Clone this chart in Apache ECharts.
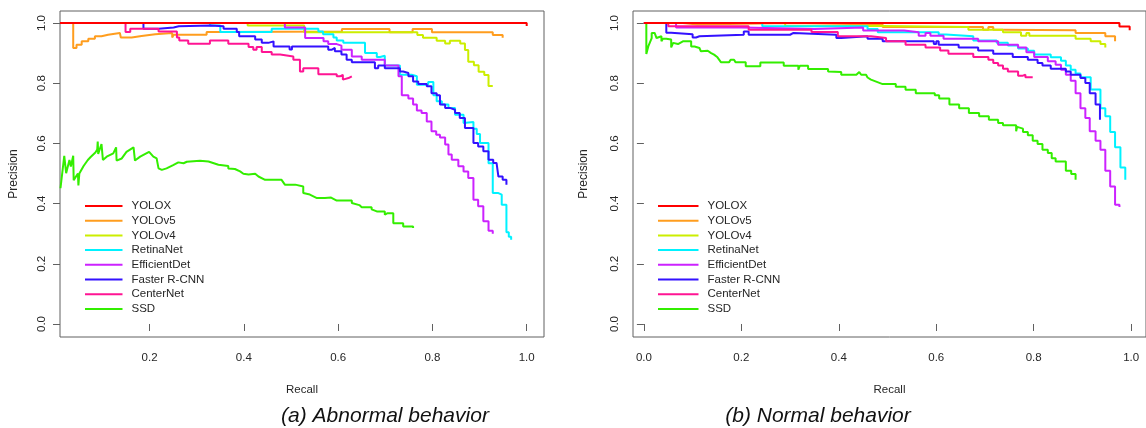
<!DOCTYPE html>
<html><head><meta charset="utf-8">
<script src="https://cdn.jsdelivr.net/npm/echarts@6/dist/echarts.min.js"></script>
<style>html,body{margin:0;padding:0;background:#fff}#c{width:1146px;height:428px}</style>
</head><body><div id="c"></div><script>
// ---- tick labels ----
const xTicksA = [0.2, 0.4, 0.6, 0.8, 1.0];
const xTicksB = [0.0, 0.2, 0.4, 0.6, 0.8, 1.0];
const yTicks = [0.0, 0.2, 0.4, 0.6, 0.8, 1.0];
const names = ['YOLOX', 'YOLOv5', 'YOLOv4', 'RetinaNet', 'EfficientDet', 'Faster R-CNN', 'CenterNet', 'SSD'];
const captions = ['(a) Abnormal behavior', '(b) Normal behavior'];

// ---- (a) Abnormal behavior: [recall, precision] ----
const a_YOLOX = [[0.01,1.0],[1.0,0.99]];
const a_YOLOv5 = [[0.01,1.0],[0.038,0.917],[0.045,0.928],[0.056,0.939],[0.070,0.948],[0.084,0.956],[0.098,0.961],[0.112,0.967],[0.137,0.970],[0.139,0.952],[0.162,0.957],[0.183,0.963],[0.212,0.967],[0.248,0.952],[0.251,0.961],[0.321,0.970],[0.349,0.972],[0.608,0.980],[0.709,0.969],[0.758,0.980],[0.799,0.969],[0.928,0.960],[0.949,0.951]];
const a_YOLOv4 = [[0.01,1.0],[0.408,0.992],[0.528,0.969],[0.768,0.960],[0.780,0.951],[0.809,0.941],[0.827,0.932],[0.837,0.941],[0.859,0.932],[0.869,0.910],[0.876,0.871],[0.888,0.860],[0.898,0.838],[0.910,0.827],[0.919,0.791],[0.928,0.791]];
const a_RetinaNet = [[0.01,1.0],[0.328,0.992],[0.350,0.970],[0.459,0.981],[0.558,0.972],[0.568,0.963],[0.590,0.952],[0.597,0.942],[0.611,0.934],[0.657,0.900],[0.682,0.887],[0.689,0.891],[0.699,0.859],[0.731,0.828],[0.756,0.823],[0.767,0.795],[0.791,0.804],[0.802,0.760],[0.809,0.740],[0.820,0.729],[0.834,0.718],[0.848,0.695],[0.866,0.668],[0.869,0.671],[0.887,0.649],[0.894,0.631],[0.901,0.601],[0.919,0.534],[0.928,0.435],[0.940,0.430],[0.947,0.396],[0.957,0.305],[0.962,0.290],[0.967,0.280]];
const a_EfficientDet = [[0.01,1.0],[0.487,0.985],[0.530,0.950],[0.569,0.939],[0.579,0.930],[0.597,0.925],[0.607,0.911],[0.629,0.889],[0.650,0.878],[0.699,0.859],[0.728,0.823],[0.735,0.760],[0.749,0.749],[0.759,0.729],[0.767,0.709],[0.777,0.701],[0.788,0.673],[0.798,0.640],[0.808,0.629],[0.816,0.620],[0.827,0.596],[0.834,0.563],[0.841,0.546],[0.855,0.524],[0.866,0.507],[0.876,0.485],[0.887,0.413],[0.897,0.391],[0.908,0.341],[0.919,0.310],[0.928,0.300]];
const a_FasterRCNN = [[0.01,1.0],[0.187,0.981],[0.219,0.985],[0.251,0.989],[0.262,0.992],[0.330,0.989],[0.357,0.981],[0.385,0.970],[0.390,0.956],[0.424,0.945],[0.438,0.934],[0.452,0.939],[0.463,0.922],[0.497,0.912],[0.502,0.922],[0.579,0.911],[0.586,0.917],[0.593,0.906],[0.607,0.895],[0.618,0.878],[0.629,0.870],[0.678,0.850],[0.685,0.859],[0.699,0.850],[0.731,0.839],[0.738,0.834],[0.749,0.823],[0.759,0.806],[0.770,0.797],[0.788,0.790],[0.798,0.767],[0.809,0.760],[0.816,0.729],[0.827,0.718],[0.837,0.712],[0.848,0.701],[0.858,0.684],[0.869,0.651],[0.887,0.601],[0.897,0.590],[0.908,0.574],[0.919,0.546],[0.929,0.535],[0.936,0.540],[0.940,0.490],[0.949,0.479],[0.957,0.463]];
const a_CenterNet = [[0.01,1.0],[0.149,0.970],[0.159,0.981],[0.219,0.972],[0.258,0.952],[0.263,0.942],[0.282,0.931],[0.328,0.942],[0.367,0.931],[0.410,0.920],[0.420,0.911],[0.427,0.920],[0.438,0.904],[0.459,0.895],[0.477,0.889],[0.505,0.878],[0.519,0.839],[0.526,0.850],[0.558,0.830],[0.597,0.823],[0.604,0.828],[0.610,0.812],[0.611,0.817],[0.622,0.823],[0.629,0.823]];
const a_SSD = [[0.011,0.451],[0.019,0.559],[0.023,0.501],[0.030,0.545],[0.033,0.523],[0.038,0.559],[0.039,0.478],[0.048,0.500],[0.049,0.460],[0.051,0.500],[0.060,0.525],[0.069,0.545],[0.075,0.555],[0.085,0.570],[0.089,0.580],[0.090,0.606],[0.091,0.565],[0.098,0.598],[0.101,0.545],[0.109,0.556],[0.123,0.567],[0.129,0.587],[0.130,0.543],[0.141,0.550],[0.151,0.572],[0.166,0.587],[0.169,0.543],[0.180,0.556],[0.199,0.572],[0.208,0.556],[0.215,0.550],[0.219,0.517],[0.226,0.512],[0.236,0.517],[0.250,0.528],[0.261,0.537],[0.272,0.534],[0.279,0.539],[0.307,0.542],[0.325,0.540],[0.325,0.535],[0.346,0.529],[0.367,0.525],[0.367,0.517],[0.381,0.515],[0.392,0.507],[0.399,0.499],[0.410,0.497],[0.424,0.499],[0.431,0.490],[0.445,0.479],[0.480,0.479],[0.480,0.474],[0.487,0.463],[0.509,0.463],[0.509,0.457],[0.526,0.457],[0.526,0.435],[0.540,0.430],[0.554,0.419],[0.572,0.419],[0.572,0.414],[0.585,0.420],[0.597,0.410],[0.629,0.410],[0.629,0.402],[0.645,0.395],[0.650,0.388],[0.671,0.388],[0.671,0.381],[0.682,0.374],[0.699,0.374],[0.699,0.363],[0.705,0.368],[0.717,0.368],[0.717,0.335],[0.738,0.335],[0.738,0.324],[0.759,0.324],[0.759,0.319]];

// ---- (b) Normal behavior: [recall, precision] ----
const b_YOLOX = [[0.0,1.0],[0.976,0.988],[0.997,0.976]];
const b_YOLOv5 = [[0.0,1.0],[0.08,0.995],[0.11,1.0],[0.30,0.995],[0.49,0.987],[0.696,0.978],[0.707,0.987],[0.717,0.978],[0.737,0.976],[0.886,0.967],[0.947,0.956],[0.967,0.939]];
const b_YOLOv4 = [[0.0,1.0],[0.29,0.990],[0.49,0.987],[0.666,0.978],[0.737,0.969],[0.774,0.958],[0.785,0.967],[0.791,0.958],[0.886,0.948],[0.917,0.939],[0.937,0.930],[0.947,0.919]];
const b_RetinaNet = [[0.0,1.0],[0.243,0.989],[0.459,0.980],[0.480,0.969],[0.605,0.962],[0.620,0.956],[0.676,0.942],[0.724,0.934],[0.747,0.925],[0.768,0.915],[0.788,0.908],[0.801,0.895],[0.835,0.886],[0.856,0.875],[0.866,0.859],[0.876,0.845],[0.886,0.832],[0.896,0.820],[0.917,0.779],[0.937,0.717],[0.947,0.690],[0.957,0.638],[0.967,0.587],[0.978,0.520],[0.988,0.479]];
const b_EfficientDet = [[0.0,1.0],[0.066,0.985],[0.200,0.980],[0.350,0.985],[0.450,0.975],[0.534,0.969],[0.564,0.958],[0.578,0.967],[0.588,0.958],[0.615,0.948],[0.686,0.939],[0.727,0.928],[0.768,0.919],[0.785,0.903],[0.801,0.887],[0.829,0.873],[0.845,0.861],[0.856,0.845],[0.866,0.828],[0.876,0.808],[0.886,0.767],[0.896,0.717],[0.906,0.684],[0.915,0.640],[0.927,0.609],[0.937,0.579],[0.947,0.509],[0.957,0.457],[0.967,0.396],[0.976,0.389]];
const b_FasterRCNN = [[0.0,1.0],[0.046,0.968],[0.056,0.963],[0.100,0.952],[0.107,0.956],[0.114,0.961],[0.205,0.972],[0.215,0.961],[0.300,0.967],[0.307,0.961],[0.395,0.950],[0.405,0.956],[0.459,0.948],[0.490,0.939],[0.595,0.930],[0.600,0.939],[0.605,0.928],[0.646,0.919],[0.686,0.909],[0.717,0.898],[0.757,0.887],[0.788,0.878],[0.808,0.867],[0.818,0.859],[0.835,0.848],[0.866,0.839],[0.876,0.828],[0.896,0.817],[0.906,0.801],[0.915,0.767],[0.927,0.729],[0.936,0.679]];
const b_CenterNet = [[0.0,1.0],[0.050,0.989],[0.215,0.978],[0.344,0.970],[0.398,0.956],[0.466,0.950],[0.497,0.939],[0.537,0.928],[0.578,0.919],[0.608,0.909],[0.625,0.898],[0.676,0.887],[0.707,0.878],[0.717,0.867],[0.727,0.859],[0.737,0.848],[0.747,0.839],[0.768,0.825],[0.778,0.828],[0.783,0.820],[0.798,0.820]];
const b_SSD = [[0.005,0.998],[0.005,0.897],[0.009,0.922],[0.016,0.950],[0.016,0.967],[0.022,0.967],[0.026,0.950],[0.029,0.956],[0.036,0.956],[0.036,0.939],[0.039,0.948],[0.046,0.948],[0.046,0.945],[0.056,0.945],[0.056,0.919],[0.060,0.934],[0.070,0.930],[0.073,0.934],[0.080,0.939],[0.097,0.939],[0.097,0.922],[0.104,0.922],[0.107,0.917],[0.114,0.917],[0.117,0.906],[0.131,0.908],[0.138,0.900],[0.144,0.895],[0.151,0.886],[0.158,0.870],[0.175,0.870],[0.178,0.878],[0.185,0.878],[0.188,0.870],[0.209,0.870],[0.209,0.856],[0.239,0.856],[0.239,0.869],[0.287,0.869],[0.287,0.858],[0.317,0.858],[0.317,0.845],[0.320,0.858],[0.337,0.858],[0.337,0.847],[0.378,0.847],[0.378,0.839],[0.405,0.837],[0.405,0.828],[0.436,0.828],[0.442,0.837],[0.446,0.828],[0.456,0.828],[0.459,0.819],[0.466,0.812],[0.490,0.797],[0.517,0.797],[0.517,0.788],[0.537,0.788],[0.537,0.778],[0.558,0.778],[0.558,0.767],[0.597,0.767],[0.597,0.760],[0.606,0.760],[0.606,0.749],[0.627,0.749],[0.627,0.729],[0.647,0.729],[0.647,0.717],[0.667,0.717],[0.667,0.701],[0.688,0.701],[0.688,0.690],[0.708,0.690],[0.708,0.679],[0.727,0.679],[0.727,0.668],[0.737,0.668],[0.737,0.660],[0.764,0.660],[0.764,0.640],[0.766,0.655],[0.768,0.649],[0.778,0.649],[0.778,0.638],[0.788,0.638],[0.788,0.627],[0.798,0.627],[0.798,0.609],[0.808,0.609],[0.808,0.598],[0.818,0.598],[0.818,0.579],[0.829,0.579],[0.829,0.568],[0.837,0.568],[0.837,0.551],[0.845,0.551],[0.845,0.540],[0.866,0.540],[0.866,0.509],[0.877,0.509],[0.877,0.498],[0.886,0.498],[0.886,0.479]];

const panelA = [a_YOLOX, a_YOLOv5, a_YOLOv4, a_RetinaNet, a_EfficientDet, a_FasterRCNN, a_CenterNet, a_SSD];
const panelB = [b_YOLOX, b_YOLOv5, b_YOLOv4, b_RetinaNet, b_EfficientDet, b_FasterRCNN, b_CenterNet, b_SSD];

// ---- styling ----
const colors = ['#FF0000', '#FF9D1E', '#CCEE00', '#00F2FF', '#CC22FF', '#3311FF', '#FF1493', '#33EE00'];
const FONT = 'Liberation Sans, Arial, sans-serif';
const TXT = '#262626';
const AX = '#606060';
const drawOrder = [1, 2, 3, 4, 5, 6, 7, 0];

const chart = echarts.init(document.getElementById('c'), null, {renderer: 'canvas'});

function xAxisCfg(idx, min, max, ticks) {
  return {
    type: 'value', gridIndex: idx, min: min, max: max,
    name: 'Recall', nameLocation: 'middle', nameGap: 47,
    nameTextStyle: {fontFamily: FONT, fontSize: 11.5, color: TXT},
    axisLine: {show: false},
    axisTick: {show: true, inside: false, length: 7, customValues: ticks, lineStyle: {color: AX, width: 1}},
    axisLabel: {show: true, margin: 15, customValues: ticks, fontFamily: FONT, fontSize: 11.5, color: TXT,
      formatter: v => Number(v).toFixed(1)},
    splitLine: {show: false}
  };
}
function yAxisCfg(idx, gap) {
  return {
    type: 'value', gridIndex: idx, min: -0.0432, max: 1.0399,
    name: 'Precision', nameLocation: 'middle', nameGap: gap, nameRotate: 90,
    nameTextStyle: {fontFamily: FONT, fontSize: 12, color: TXT},
    axisLine: {show: false},
    axisTick: {show: true, inside: false, length: 7, customValues: yTicks, lineStyle: {color: AX, width: 1}},
    axisLabel: {show: true, rotate: 90, margin: 12, customValues: yTicks, fontFamily: FONT, fontSize: 11.5, color: TXT,
      formatter: v => Number(v).toFixed(1)},
    splitLine: {show: false}
  };
}

const series = [];
[panelA, panelB].forEach((panel, p) => {
  drawOrder.forEach(i => {
    series.push({
      type: 'line', name: names[i], xAxisIndex: p, yAxisIndex: p,
      data: panel[i], step: i === 7 ? false : 'end',
      symbol: 'none', showSymbol: false, clip: true, silent: true,
      lineStyle: {width: 2, color: colors[i]}, itemStyle: {color: colors[i]},
      emphasis: {disabled: true}
    });
  });
});

function legendCfg(left, w) {
  return {
    orient: 'vertical', left: left, top: 195, itemWidth: w, itemHeight: 2, itemGap: 2.7,
    icon: 'rect', data: names, selectedMode: false,
    textStyle: {fontFamily: FONT, fontSize: 11.5, color: TXT, lineHeight: 12, padding: [0, 0, 0, 4]}
  };
}

chart.setOption({
  animation: false,
  backgroundColor: '#ffffff',
  grid: [
    {left: 60, top: 11, width: 484, height: 326, show: true, borderColor: AX, borderWidth: 1, backgroundColor: 'transparent'},
    {left: 633, top: 11, width: 518, height: 326, show: true, borderColor: AX, borderWidth: 1, backgroundColor: 'transparent'}
  ],
  xAxis: [xAxisCfg(0, 0.00997, 1.0367, xTicksA), xAxisCfg(1, -0.02236, 1.0305, xTicksB)],
  yAxis: [yAxisCfg(0, 40.5), yAxisCfg(1, 43)],
  legend: [legendCfg(80, 37.5), legendCfg(653, 40.5)],
  series: series,
  graphic: [
    {type: 'text', x: 385, y: 416, silent: true,
      style: {text: captions[0], font: 'italic 21px ' + FONT, fill: '#111', textAlign: 'center', textVerticalAlign: 'middle', align: 'center', verticalAlign: 'middle'}},
    {type: 'text', x: 818, y: 416, silent: true,
      style: {text: captions[1], font: 'italic 21px ' + FONT, fill: '#111', textAlign: 'center', textVerticalAlign: 'middle', align: 'center', verticalAlign: 'middle'}}
  ]
});
</script></body></html>
